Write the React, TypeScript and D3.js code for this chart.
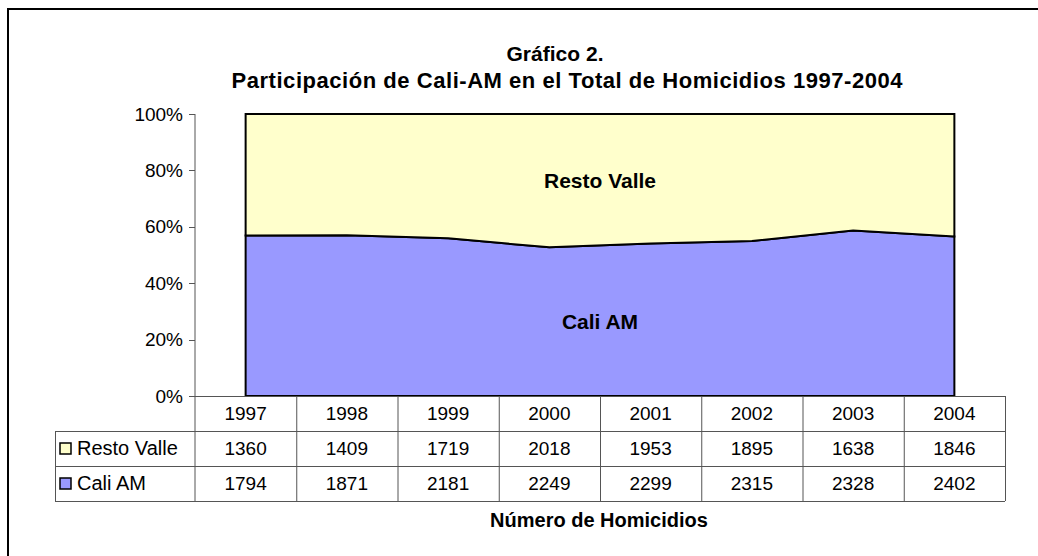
import React from 'react';
import * as d3 from 'd3';

const years = ['1997', '1998', '1999', '2000', '2001', '2002', '2003', '2004'];
const restoValle = [1360, 1409, 1719, 2018, 1953, 1895, 1638, 1846];
const caliAM = [1794, 1871, 2181, 2249, 2299, 2315, 2328, 2402];
const seriesNames = ['Cali AM', 'Resto Valle'];
const seriesColors = ['#9999FF', '#FFFFCC'];
const yTicks = [0, 0.2, 0.4, 0.6, 0.8, 1];

const FONT = '"Liberation Sans", Arial, sans-serif';

const App = () => {
  const width = 1038;
  const height = 556;
  const plotTop = 114;
  const plotBottom = 396;
  const left = 195;
  const right = 1005;
  const rowH = 35;
  const legendLeft = 55;

  const rows = years.map((y, i) => ({ year: y, 'Cali AM': caliAM[i], 'Resto Valle': restoValle[i] }));
  const stack = d3.stack<any>().keys(seriesNames).offset(d3.stackOffsetExpand);
  const layers = stack(rows);

  const x = d3.scaleBand().domain(years).range([left, right]);
  const cx = (yr: string) => (x(yr) as number) + x.bandwidth() / 2;
  const y = d3.scaleLinear().domain([0, 1]).range([plotBottom, plotTop]);

  const area = d3.area<any>()
    .x(d => cx(d.data.year))
    .y0(d => y(d[0]))
    .y1(d => y(d[1]));

  const tableRows = [
    { name: 'Resto Valle', color: seriesColors[1], values: restoValle },
    { name: 'Cali AM', color: seriesColors[0], values: caliAM },
  ];
  const tableBottom = plotBottom + rowH * 3;
  const lineColor = '#555';

  return (
    <svg width={width} height={height} style={{ position: 'absolute', left: 0, top: 0, fontFamily: FONT }}>
      <rect x={0} y={0} width={width} height={height} fill="#fff" />
      <rect x={8} y={9} width={width + 10} height={height + 10} fill="none" stroke="#000" strokeWidth={2} />

      <text x={555} y={61} textAnchor="middle" fontWeight="bold" fontSize={21} textLength={97} lengthAdjust="spacing">Gráfico 2.</text>
      <text x={567} y={88} textAnchor="middle" fontWeight="bold" fontSize={22} textLength={671} lengthAdjust="spacing">
        Participación de Cali-AM en el Total de Homicidios 1997-2004
      </text>

      {layers.map((layer, i) => (
        <path key={layer.key} d={area(layer) as string} fill={seriesColors[i]} stroke="#000" strokeWidth={2} strokeLinejoin="miter" />
      ))}

      <text x={600} y={188} textAnchor="middle" fontWeight="bold" fontSize={21}>Resto Valle</text>
      <text x={600} y={329} textAnchor="middle" fontWeight="bold" fontSize={21}>Cali AM</text>

      {/* y axis */}
      <line x1={left} x2={left} y1={plotTop} y2={tableBottom} stroke={lineColor} />
      {yTicks.map(t => (
        <g key={t}>
          <line x1={left - 6} x2={left} y1={Math.round(y(t)) + 0.5} y2={Math.round(y(t)) + 0.5} stroke={lineColor} />
          <text x={left - 12} y={y(t) + 6.5} textAnchor="end" fontSize={19}>{d3.format('.0%')(t)}</text>
        </g>
      ))}

      {/* data table */}
      <line x1={left} x2={right} y1={plotBottom + 0.5} y2={plotBottom + 0.5} stroke={lineColor} />
      {[1, 2, 3].map(r => (
        <line key={r} x1={legendLeft} x2={right} y1={plotBottom + rowH * r + 0.5} y2={plotBottom + rowH * r + 0.5} stroke={lineColor} />
      ))}
      <line x1={legendLeft + 0.5} x2={legendLeft + 0.5} y1={plotBottom + rowH} y2={tableBottom} stroke={lineColor} />
      {years.map(yr => (
        <line key={yr} x1={(x(yr) as number) + x.bandwidth() + 0.5} x2={(x(yr) as number) + x.bandwidth() + 0.5}
          y1={plotBottom} y2={tableBottom} stroke={lineColor} />
      ))}
      {years.map(yr => (
        <text key={yr} x={cx(yr)} y={plotBottom + rowH / 2 + 6.5} textAnchor="middle" fontSize={19}>{yr}</text>
      ))}
      {tableRows.map((row, r) => {
        const ty = plotBottom + rowH * (r + 1);
        return (
          <g key={row.name}>
            <rect x={60} y={ty + 12} width={11} height={11} fill={row.color} stroke="#000" strokeWidth={1.5} />
            <text x={77} y={ty + rowH / 2 + 6.5} fontSize={20}>{row.name}</text>
            {row.values.map((v, i) => (
              <text key={i} x={cx(years[i])} y={ty + rowH / 2 + 6.5} textAnchor="middle" fontSize={19}>{v}</text>
            ))}
          </g>
        );
      })}

      <text x={599} y={527} textAnchor="middle" fontWeight="bold" fontSize={20}>Número de Homicidios</text>
    </svg>
  );
};

export default App;
